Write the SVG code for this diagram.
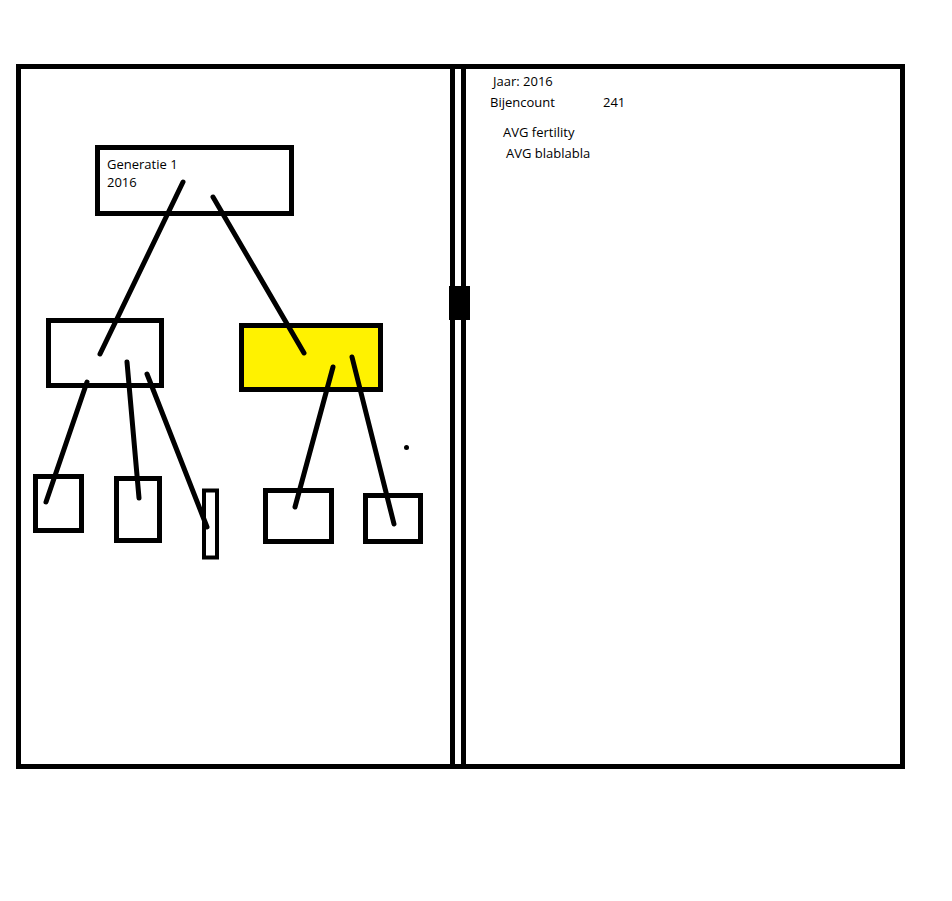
<svg xmlns="http://www.w3.org/2000/svg" width="952" height="901" viewBox="0 0 952 901">
<style>
.box{fill:none;stroke:#000;stroke-width:5}
.yel{fill:#fff200;stroke:#000;stroke-width:5}
.ln{stroke:#000;stroke-width:5;stroke-linecap:round;fill:none}
text{font-family:"Open Sans","Noto Sans",sans-serif;font-size:13px;fill:#000}
</style>
<rect width="952" height="901" fill="#fff"/>
<g id="frame">
<rect x="18.5" y="66.5" width="884" height="700" fill="none" stroke="#000" stroke-width="5"/>
<rect x="450" y="64" width="5" height="705" fill="#000"/>
<rect x="461" y="64" width="5" height="705" fill="#000"/>
<rect x="449" y="286" width="21" height="34" fill="#000"/>
</g>
<g id="info">
<text x="493" y="86">Jaar: 2016</text>
<text x="490" y="107">Bijencount</text>
<text x="603" y="107">241</text>
<text x="503" y="137">AVG fertility</text>
<text x="506" y="158">AVG blablabla</text>
</g>
<g id="gen1">
<rect class="box" x="97.5" y="147.5" width="194" height="66"/>
<text x="107" y="169">Generatie 1</text>
<text x="107" y="187">2016</text>
</g>
<g id="child-left"><rect class="box" x="48.5" y="320.5" width="113" height="65"/></g>
<g id="child-yellow"><rect class="yel" x="241.5" y="325.5" width="139" height="64"/></g>
<g id="leaf1"><rect class="box" x="35.5" y="476.5" width="46" height="54"/></g>
<g id="leaf2"><rect class="box" x="116.5" y="478.5" width="43" height="62"/></g>
<g id="leaf3"><rect x="204" y="490.5" width="13" height="67" fill="none" stroke="#000" stroke-width="4"/></g>
<g id="leaf4"><rect class="box" x="265.5" y="490.5" width="66" height="51"/></g>
<g id="leaf5"><rect class="box" x="365.5" y="495.5" width="55" height="46"/></g>
<g id="dot"><circle cx="406.5" cy="447.5" r="2.5" fill="#000"/></g>
<g id="connectors">
<line class="ln" x1="183" y1="182" x2="100" y2="354"/>
<line class="ln" x1="213" y1="197" x2="304" y2="353"/>
<line class="ln" x1="87" y1="382" x2="46" y2="502"/>
<line class="ln" x1="127" y1="362" x2="139" y2="498"/>
<line class="ln" x1="147" y1="374" x2="207" y2="527"/>
<line class="ln" x1="333" y1="367" x2="295" y2="507"/>
<line class="ln" x1="352" y1="357" x2="394" y2="524"/>
</g>
</svg>
